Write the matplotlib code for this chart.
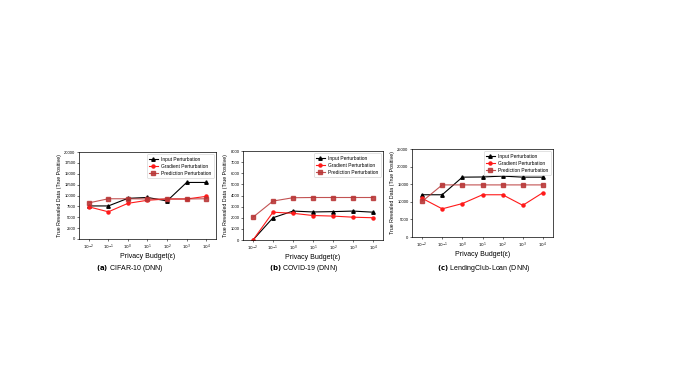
import matplotlib
matplotlib.use("Agg")
import matplotlib.pyplot as plt

plt.rcParams['font.family'] = ['Liberation Sans', 'DejaVu Sans']

x_labels = [r'$10^{-2}$', r'$10^{-1}$', r'$10^{0}$', r'$10^{1}$', r'$10^{2}$', r'$10^{3}$', r'$10^{4}$']
series_names = ['Input Perturbation', 'Gradient Perturbation', 'Prediction Perturbation']

cifar_input = [7600, 7600, 9350, 9550, 8750, 13000, 13000]
cifar_gradient = [7400, 6250, 8200, 8900, 9200, 9200, 9800]
cifar_prediction = [8300, 9250, 9250, 9200, 9200, 9200, 9250]

covid_input = [0, 2000, 2600, 2520, 2550, 2600, 2500]
covid_gradient = [0, 2500, 2400, 2200, 2150, 2050, 2000]
covid_prediction = [2050, 3500, 3800, 3820, 3820, 3820, 3820]

loan_input = [12000, 12000, 17000, 17050, 17300, 17000, 17000]
loan_gradient = [11000, 8000, 9500, 12000, 12000, 9000, 12600]
loan_prediction = [10100, 14800, 14800, 14800, 14800, 14800, 14800]

panels = [
    dict(title='CIFAR-10 (DNN)', tag='(a)', data=[cifar_input, cifar_gradient, cifar_prediction],
         ylim=20000, yticks=list(range(0, 20001, 2500)), rect=[79/673, 1-239/379, 137/673, 87/379], cap_x=130),
    dict(title='COVID-19 (DNN)', tag='(b)', data=[covid_input, covid_gradient, covid_prediction],
         ylim=8000, yticks=list(range(0, 8001, 1000)), rect=[243/673, 1-240/379, 140/673, 89/379], cap_x=303),
    dict(title='LendingClub-Loan (DNN)', tag='(c)', data=[loan_input, loan_gradient, loan_prediction],
         ylim=25000, yticks=list(range(0, 25001, 5000)), rect=[412/673, 1-237/379, 141/673, 88/379], cap_x=484),
]

styles = [
    dict(color='black', marker='^', markersize=2.5, lw=0.8),
    dict(color='#ff1a1a', marker='o', markersize=2.2, lw=0.8),
    dict(color='#b83535', marker='s', markersize=2.2, lw=0.8, alpha=0.85),
]

fig = plt.figure(figsize=(6.73, 3.79), dpi=100)
for p in panels:
    ax = fig.add_axes(p['rect'])
    xs = list(range(len(x_labels)))
    for name, vals, st in zip(series_names, p['data'], styles):
        ax.plot(xs, vals, label=name, **st)
    ax.set_xticks(xs)
    ax.set_xticklabels(x_labels, fontsize=3)
    ax.set_yticks(p['yticks'])
    ax.set_yticklabels([str(v) for v in p['yticks']], fontsize=3)
    ax.set_ylim(0, p['ylim'])
    ax.set_xlim(-0.5, 6.5)
    ax.tick_params(length=1.5, width=0.4, pad=1)
    for s in ax.spines.values():
        s.set_linewidth(0.5)
    ax.set_xlabel('Privacy Budget(ε)', fontsize=5, labelpad=1)
    ax.set_ylabel('True Revealed Data (True Positive)', fontsize=3.8, labelpad=1.5)
    leg = ax.legend(loc='upper right', fontsize=3.5, frameon=True, handlelength=1.8,
                    borderpad=0.45, labelspacing=0.4, handletextpad=0.7, fancybox=True,
                    framealpha=1, edgecolor='#cccccc')
    leg.get_frame().set_linewidth(0.4)
    fig.text(p['cap_x']/673, 1-268/379, r'$\bf{' + p['tag'] + '}$ ' + p['title'],
             ha='center', va='center', fontsize=5)

fig.savefig('out.png', dpi=100, facecolor='white')
